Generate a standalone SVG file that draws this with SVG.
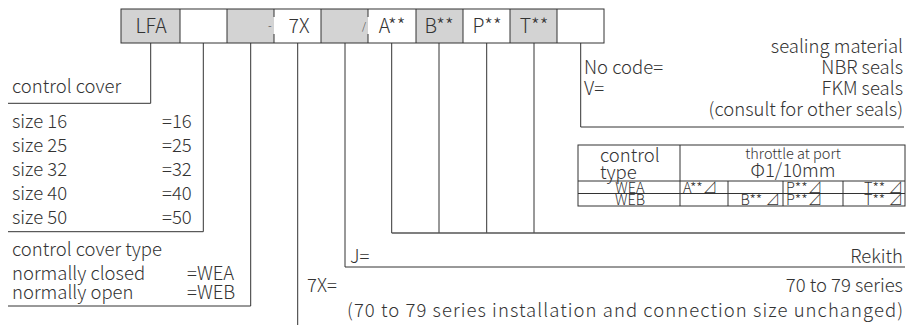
<svg xmlns="http://www.w3.org/2000/svg" width="907" height="325" viewBox="0 0 907 325">
<style>
text{font-family:"Noto Sans CJK SC","Noto Sans",sans-serif;font-weight:300;fill:#333;font-size:18.5px}
.ln{stroke:#333;stroke-width:1;fill:none}
.g{fill:#d3d3d3}
.c{text-anchor:middle}
.r{text-anchor:end}
.top{font-size:19.5px}
.sm{font-size:14.5px}
.tb{font-size:14.5px}
</style>
<rect width="907" height="325" fill="#fff"/>
<g id="code-boxes">
<rect class="g" x="121" y="9" width="59" height="34"/>
<rect class="g" x="227" y="9" width="47" height="34"/>
<rect class="g" x="321" y="9" width="47" height="34"/>
<rect class="g" x="416" y="9" width="47" height="34"/>
<rect class="g" x="510" y="9" width="47" height="34"/>
<rect class="ln" x="121" y="9" width="483" height="34"/>
<path class="ln" d="M180 9V43M227 9V43M321 9V43M416 9V43M463 9V43M510 9V43M557 9V43M274 9V17M274 34V43M368 9V17M368 34V43"/>
<text class="c top" x="151" y="33">LFA</text>
<text x="268" y="30" style="font-size:11px">-</text>
<text class="c top" x="299" y="33">7X</text>
<text x="362" y="30" style="font-size:10px">/</text>
<text class="c top" x="392" y="33">A**</text>
<text class="c top" x="439" y="33">B**</text>
<text class="c top" x="487" y="33">P**</text>
<text class="c top" x="534" y="33">T**</text>
</g>
<g id="connectors">
<path class="ln" d="M150.7 43V103.3H8"/>
<path class="ln" d="M203.3 43V231.7H8"/>
<path class="ln" d="M250.7 43V306H8"/>
<path class="ln" d="M297.7 43V325"/>
<path class="ln" d="M345 43V267H905"/>
<path class="ln" d="M391.7 43V233M439 43V233M486.7 43V233M534 43V233"/>
<path d="M391.7 233H905" stroke="#555" stroke-width="1.5" fill="none"/>
<path class="ln" d="M580.7 43V127H904"/>
</g>
<g id="control-cover">
<text x="12" y="93">control cover</text>
</g>
<g id="size">
<text x="12" y="128">size 16</text><text x="162" y="128">=16</text>
<text x="12" y="152">size 25</text><text x="162" y="152">=25</text>
<text x="12" y="176">size 32</text><text x="162" y="176">=32</text>
<text x="12" y="200">size 40</text><text x="162" y="200">=40</text>
<text x="12" y="224">size 50</text><text x="162" y="224">=50</text>
</g>
<g id="cover-type">
<text x="12" y="256">control cover type</text>
<text x="12" y="280">normally closed</text><text x="187" y="280">=WEA</text>
<text x="12" y="299">normally open</text><text x="187" y="299">=WEB</text>
</g>
<g id="series">
<text x="307" y="292">7X=</text>
<text class="r" x="903" y="292">70 to 79 series</text>
<text x="347" y="317" textLength="556" lengthAdjust="spacing">(70 to 79 series installation and connection size unchanged)</text>
</g>
<g id="maker">
<text x="350" y="263">J=</text>
<text class="r" x="903" y="263">Rekith</text>
</g>
<g id="seal">
<text class="r" x="903" y="53">sealing material</text>
<text x="584" y="74">No code=</text><text class="r" x="903" y="74">NBR seals</text>
<text x="584" y="95">V=</text><text class="r" x="903" y="95">FKM seals</text>
<text class="r" x="903" y="116">(consult for other seals)</text>
</g>
<g id="throttle-table">
<rect class="ln" x="578" y="145" width="327" height="61"/>
<path class="ln" d="M680 145V206M578 181H905M578 193.5H905M728 181V206M783 181V206M843 181V206"/>
<text x="600" y="162">control</text>
<text x="600" y="179">type</text>
<text class="c sm" x="793" y="159">throttle at port</text>
<text class="c" x="793" y="177">Φ1/10mm</text>
<text class="c tb" x="630" y="192.5">WEA</text>
<text class="c tb" x="630" y="205">WEB</text>
<text class="tb" x="683" y="192.5">A**⊿</text>
<text class="tb" x="786" y="192.5">P**⊿</text>
<text class="tb r" x="903" y="192.5">T** ⊿</text>
<text class="tb r" x="780" y="205">B** ⊿</text>
<text class="tb" x="786" y="205">P**⊿</text>
<text class="tb r" x="903" y="205">T** ⊿</text>
</g>
</svg>
